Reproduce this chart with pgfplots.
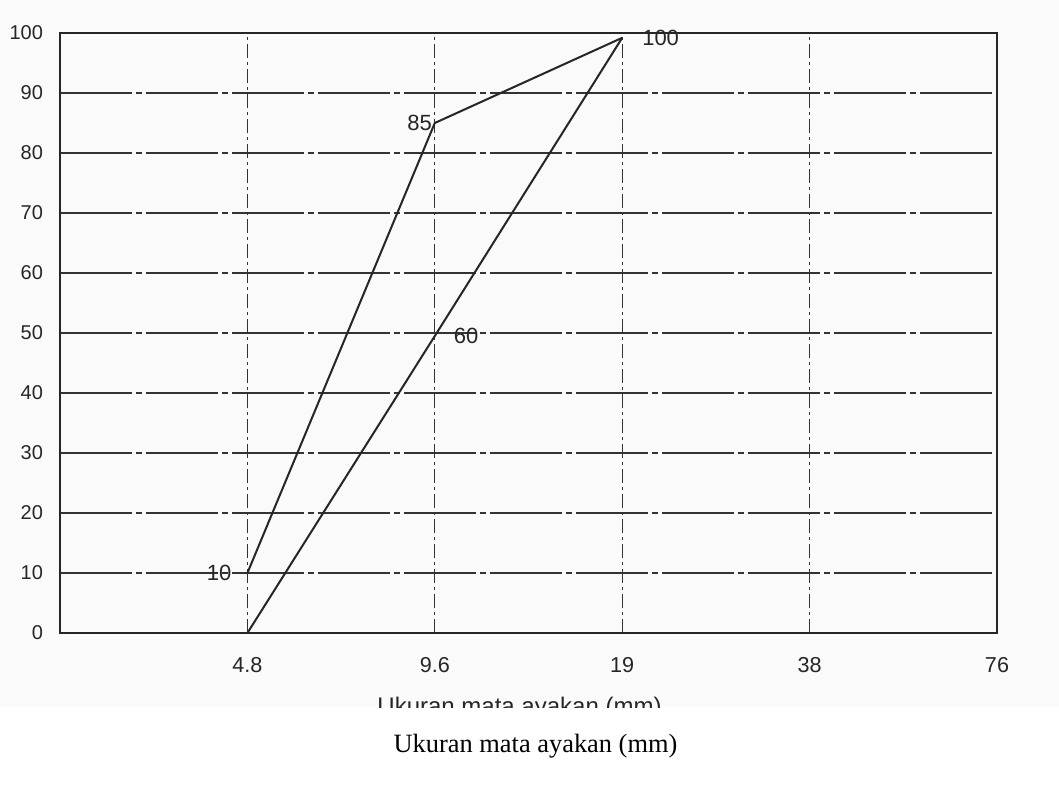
\documentclass[border=0pt]{standalone}
\usepackage{fontspec}
\setmainfont{Liberation Sans}
\newfontfamily\timesfont{Liberation Serif}
\usepackage{pgfplots}
\pgfplotsset{compat=1.18}
\begin{document}
\begin{tikzpicture}
% page frame and the light scan background
\path[use as bounding box] (-30pt,-86pt) rectangle (499.5pt,316.5pt);
\fill[black!2] (-30pt,-37pt) rectangle (499.5pt,316.5pt);
\begin{axis}[
    at={(0pt,0pt)}, anchor=south west,
    scale only axis,
    width=468.5pt, height=300pt,
    xmin=0, xmax=5, ymin=0, ymax=100,
    xtick={1,2,3,4,5},
    xticklabels={4.8,9.6,19,38,76},
    ytick={0,10,...,100},
    major tick length=0pt,
    axis line style={line width=1pt, black!85},
    tick label style={font=\fontsize{10}{12}\selectfont, black!85},
    /pgf/number format/assume math mode=true,
    yticklabel style={xshift=-5pt},
    xticklabel style={yshift=-8.5pt, font=\fontsize{10.8}{12}\selectfont},
    xmajorgrids, ymajorgrids,
    x grid style={black!80, line width=0.6pt, dash pattern=on 7pt off 2pt on 1.5pt off 2pt},
    y grid style={black!80, line width=0.7pt, dash pattern=on 36pt off 2pt on 3pt off 2pt},
    clip=false,
]
\addplot[line width=1pt, black!85] coordinates {(1,10) (2,85) (3,99.2)};
\addplot[line width=1pt, black!85] coordinates {(1,0) (2,49.5) (3,99.2)};

\node[anchor=east, xshift=-4.5pt, font=\fontsize{11}{12}\selectfont, black!85] at (axis cs:1,10) {10};
\node[anchor=east, xshift=2pt, font=\fontsize{11}{12}\selectfont, black!85] at (axis cs:2,85) {85};
\node[anchor=west, xshift=6pt, font=\fontsize{11}{12}\selectfont, black!85] at (axis cs:2,49.5) {60};
\node[anchor=west, xshift=6.5pt, font=\fontsize{11}{12}\selectfont, black!85] at (axis cs:3,99.2) {100};
\end{axis}
% the scanned axis title, cut off at the edge of the scan
\begin{scope}
\clip (-30pt,-37pt) rectangle (499.5pt,0pt);
\node[anchor=base, inner sep=0pt, font=\fontsize{12}{14}\selectfont, black!85] at (229.75pt,-40.5pt) {Ukuran mata ayakan (mm)};
\end{scope}
% caption under the scan
\node[anchor=base, inner sep=0pt, font=\timesfont\fontsize{13.2}{15}\selectfont] at (237.75pt,-59.5pt) {Ukuran mata ayakan (mm)};
\end{tikzpicture}
\end{document}
